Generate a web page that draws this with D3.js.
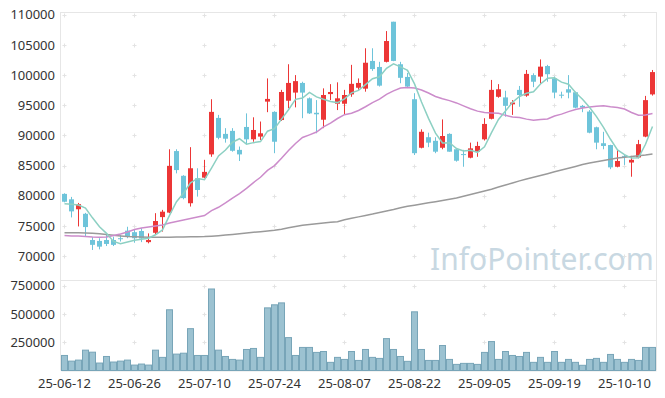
<!DOCTYPE html>
<html>
<head>
<meta charset="utf-8">
<script src="https://cdn.jsdelivr.net/npm/d3@7"></script>
<style>
  body { margin: 0; background: #fff; }
  .chart text { font-family: "Noto Sans", sans-serif; }
</style>
</head>
<body>
<div class="chart"></div>
<script>
const dates = [
  "25-06-12","25-06-13","25-06-16","25-06-17","25-06-18","25-06-19","25-06-20","25-06-23","25-06-24","25-06-25",
  "25-06-26","25-06-27","25-06-30","25-07-01","25-07-02","25-07-03","25-07-04","25-07-07","25-07-08","25-07-09",
  "25-07-10","25-07-11","25-07-14","25-07-15","25-07-16","25-07-17","25-07-18","25-07-21","25-07-22","25-07-23",
  "25-07-24","25-07-25","25-07-28","25-07-29","25-07-30","25-07-31","25-08-01","25-08-04","25-08-05","25-08-06",
  "25-08-07","25-08-08","25-08-11","25-08-12","25-08-13","25-08-14","25-08-18","25-08-19","25-08-20","25-08-21",
  "25-08-22","25-08-25","25-08-26","25-08-27","25-08-28","25-08-29","25-09-01","25-09-02","25-09-03","25-09-04",
  "25-09-05","25-09-08","25-09-09","25-09-10","25-09-11","25-09-12","25-09-15","25-09-16","25-09-17","25-09-18",
  "25-09-19","25-09-22","25-09-23","25-09-24","25-09-25","25-09-26","25-09-29","25-09-30","25-10-01","25-10-02",
  "25-10-10","25-10-13","25-10-14","25-10-15","25-10-16"
];

const opens = [
  80300,79400,77750,77000,72650,72500,72650,72650,72950,74200,
  73950,74150,72300,73850,76450,77200,87400,83300,78750,82900,
  83000,86850,92900,90250,90750,87600,91400,89350,89800,95600,
  93900,92550,95750,97100,98700,96150,93750,92600,96850,95250,
  95250,96800,97900,97750,102350,101350,102200,108850,101800,99700,
  96000,87950,89700,89100,87950,90250,87700,86900,86300,87300,
  89350,92750,96400,96300,95150,97550,96600,100000,99750,101500,
  99450,96750,97650,97150,94900,93950,91350,88700,88400,84800,
  86600,85500,86350,89800,96800
];
const highs = [
  80400,79800,78800,77150,73150,72950,73500,73200,73500,74850,
  74300,74600,73750,77100,77650,87700,87700,83400,88050,84550,
  85950,96000,93400,91200,91200,88150,93650,93000,92300,99450,
  94000,97550,101800,100000,98900,96300,95850,97800,98500,98800,
  97550,101700,99450,104450,104450,102200,107300,108850,102200,100350,
  97000,91000,90450,89700,92650,90350,87850,87600,88800,88950,
  92850,99200,98500,97400,95850,98200,100850,100300,102600,101700,
  99750,97250,100000,97250,95050,94200,91450,90600,88450,87600,
  86750,86600,89250,96550,100850
];
const lows = [
  78900,76400,74900,73300,71000,71100,71650,71650,72400,72950,
  72200,72300,72100,73650,74050,77100,83700,79400,78200,79850,
  82900,86450,89350,88800,87300,85750,88550,88950,89250,93850,
  87050,92400,94500,94650,92850,93550,90350,91200,95850,94200,
  93500,96400,97550,97250,100700,98100,102100,102300,98650,97850,
  86750,87850,88050,87050,87700,87300,85650,84800,86200,86450,
  89150,92650,96250,93100,93400,94750,96400,98000,98550,98900,
  96150,96150,96150,94500,93850,90350,87700,87700,84400,84700,
  85100,83150,86200,89700,96600
];
const closes = [
  79000,77400,78600,74800,71850,71550,72000,71850,72900,73300,
  72950,72900,72650,75800,77350,84950,84250,79600,84550,80950,
  83950,93900,89600,89450,87450,86850,89350,90900,90350,96050,
  88950,97200,98700,99000,97100,93650,93500,96700,97200,96150,
  96700,98550,98700,102050,101000,98250,105650,102350,99550,98100,
  87050,90600,88800,87300,89900,87300,85800,86750,87850,88250,
  91900,97550,97650,94900,95450,96700,100200,98900,101400,100150,
  97100,96650,97100,94600,94600,90450,88800,88250,84700,85750,
  86550,85950,88550,95850,100500
];
const volumes = [
  133000,83000,92000,180000,162000,66000,124000,75000,83000,92000,
  48000,57000,48000,180000,116000,537000,145000,153000,370000,133000,
  133000,721000,180000,124000,98000,92000,186000,195000,116000,554000,
  581000,598000,291000,133000,204000,204000,160000,168000,72000,116000,
  98000,168000,89000,186000,116000,107000,282000,186000,124000,81000,
  519000,186000,89000,89000,221000,98000,54000,63000,63000,54000,
  160000,256000,98000,168000,133000,124000,160000,72000,116000,72000,
  168000,72000,98000,72000,46000,98000,107000,72000,142000,98000,
  72000,98000,89000,204000,204000
];

// moving averages before enough closes are on screen
const ma5Lead = [78650, 78600, 78450, 77950];
const ma20Lead = [
  73410,73330,73330,73240,73160,73110,73160,73410,73660,73990,
  74400,74650,74820,74980,75150,75480,75730,75980,76230
];
const maLong = [
  73870,73855,73840,73805,73775,73675,73555,73440,73325,73225,
  73175,73145,73125,73110,73110,73125,73145,73160,73175,73195,
  73225,73290,73375,73475,73575,73690,73805,73920,74040,74155,
  74270,74455,74670,74885,75100,75230,75350,75465,75580,75695,
  76010,76260,76490,76725,76955,77220,77470,77705,77985,78235,
  78435,78615,78815,79015,79215,79410,79610,79910,80210,80505,
  80790,81085,81435,81780,82115,82460,82775,83060,83355,83655,
  83955,84250,84550,84850,85165,85415,85630,85845,86045,86240,
  86375,86505,86640,86755,86920
];

const priceTicks = [70000,75000,80000,85000,90000,95000,100000,105000,110000];
const volumeTicks = [250000,500000,750000];
const dateTicks = dates.filter((d, i) => i % 10 === 0);

const movingAvg = (n, lead) => closes.map((c, i) => {
  if (i < n - 1) return lead[i];
  return d3.mean(closes.slice(i - n + 1, i + 1));
});
const ma5 = movingAvg(5, ma5Lead);
const ma20 = movingAvg(20, ma20Lead);

const w = 665;
const h = 398;
const margin = { left: 61, right: 656, top: 12, split: 280, bottom: 370.5 };

const xScale = d3.scaleBand().domain(dates).range([margin.left, margin.right]).padding(0);
const xMid = d => xScale(d) + xScale.bandwidth() / 2;
const yScale = d3.scaleLinear().domain([70000, 110000]).range([256, 14.8]);
const vScale = d3.scaleLinear().domain([0, 750000]).range([margin.bottom, 285.7]);

const svg = d3.select(".chart")
  .append("svg")
  .attr("width", w)
  .attr("height", h)

const frame = "#e6e6e6";
const hLine = y => svg.append("line").attr("x1", margin.left).attr("x2", margin.right)
  .attr("y1", y).attr("y2", y).attr("stroke", frame)
const vLine = x => svg.append("line").attr("x1", x).attr("x2", x)
  .attr("y1", margin.top).attr("y2", margin.bottom).attr("stroke", frame)
hLine(margin.top + 0.5)
hLine(margin.split + 0.5)
vLine(margin.left - 0.5)
vLine(margin.right + 0.5)

// grid crosses
const crossY = priceTicks.map(v => yScale(v)).concat(volumeTicks.map(v => vScale(v)));
const crosses = [];
dateTicks.forEach(d => crossY.forEach(y => crosses.push([Math.floor(xMid(d)) + 0.5, Math.round(y) + 0.5])));
svg.append("g")
  .selectAll("path")
  .data(crosses)
  .enter()
  .append("path")
  .attr("d", d => `M${d[0] - 2},${d[1]}h4M${d[0]},${d[1] - 2}v4`)
  .attr("stroke", "#e3e3e3")
  .attr("stroke-width", 1)

// watermark
svg.append("text")
  .attr("x", 430)
  .attr("y", 270)
  .attr("font-size", 30)
  .attr("fill", "#c8d8e2")
  .text("InfoPointer.com")

const yAxis = d3.axisLeft(yScale).tickValues(priceTicks).tickSize(0).tickPadding(6).tickFormat(d3.format("d"))
svg.append("g")
  .attr("transform", `translate(${margin.left}, 0)`)
  .call(yAxis)
  .call(g => g.select(".domain").remove())

const vAxis = d3.axisLeft(vScale).tickValues(volumeTicks).tickSize(0).tickPadding(6).tickFormat(d3.format("d"))
svg.append("g")
  .attr("transform", `translate(${margin.left}, 0)`)
  .call(vAxis)
  .call(g => g.select(".domain").remove())

const xAxis = d3.axisBottom(xScale).tickValues(dateTicks).tickSize(0).tickPadding(8)
svg.append("g")
  .attr("transform", `translate(0, ${margin.bottom})`)
  .call(xAxis)
  .call(g => g.select(".domain").attr("stroke", frame))

svg.selectAll(".tick text")
  .attr("font-size", 13)
  .attr("font-family", "Noto Sans, sans-serif")
  .attr("fill", "#333")

// volume bars
svg.append("g")
  .selectAll("rect")
  .data(volumes)
  .enter()
  .append("rect")
  .attr("x", (d, i) => xScale(dates[i]) + 0.5)
  .attr("y", d => vScale(d))
  .attr("width", xScale.bandwidth() - 1)
  .attr("height", d => margin.bottom - vScale(d))
  .attr("fill", "#9cc2d1")
  .attr("stroke", "#78a5b8")
  .attr("stroke-width", 1)

// candles
const red = "#ec3636";
const blue = "#6ec4da";
const up = i => closes[i] > opens[i];
const candles = svg.append("g")
  .selectAll("g")
  .data(dates)
  .enter()
  .append("g")

candles.append("line")
  .attr("x1", d => Math.floor(xMid(d)) + 0.5)
  .attr("x2", d => Math.floor(xMid(d)) + 0.5)
  .attr("y1", (d, i) => yScale(highs[i]))
  .attr("y2", (d, i) => yScale(lows[i]))
  .attr("stroke", (d, i) => up(i) ? red : blue)
  .attr("stroke-width", 1)

candles.append("rect")
  .attr("x", d => Math.floor(xMid(d)) - 2)
  .attr("y", (d, i) => yScale(Math.max(opens[i], closes[i])))
  .attr("width", 5)
  .attr("height", (d, i) => Math.max(1, Math.abs(yScale(opens[i]) - yScale(closes[i]))))
  .attr("fill", (d, i) => up(i) ? red : blue)

// moving average lines
const line = d3.line().x((d, i) => xMid(dates[i])).y(d => yScale(d))
const lines = [[maLong, "#9a9a9a"], [ma20, "#cc8ccb"], [ma5, "#8dd0c3"]];
lines.forEach(([data, color]) => {
  svg.append("path")
    .datum(data)
    .attr("d", line)
    .attr("fill", "none")
    .attr("stroke", color)
    .attr("stroke-width", 1.5)
})
</script>
</body>
</html>
